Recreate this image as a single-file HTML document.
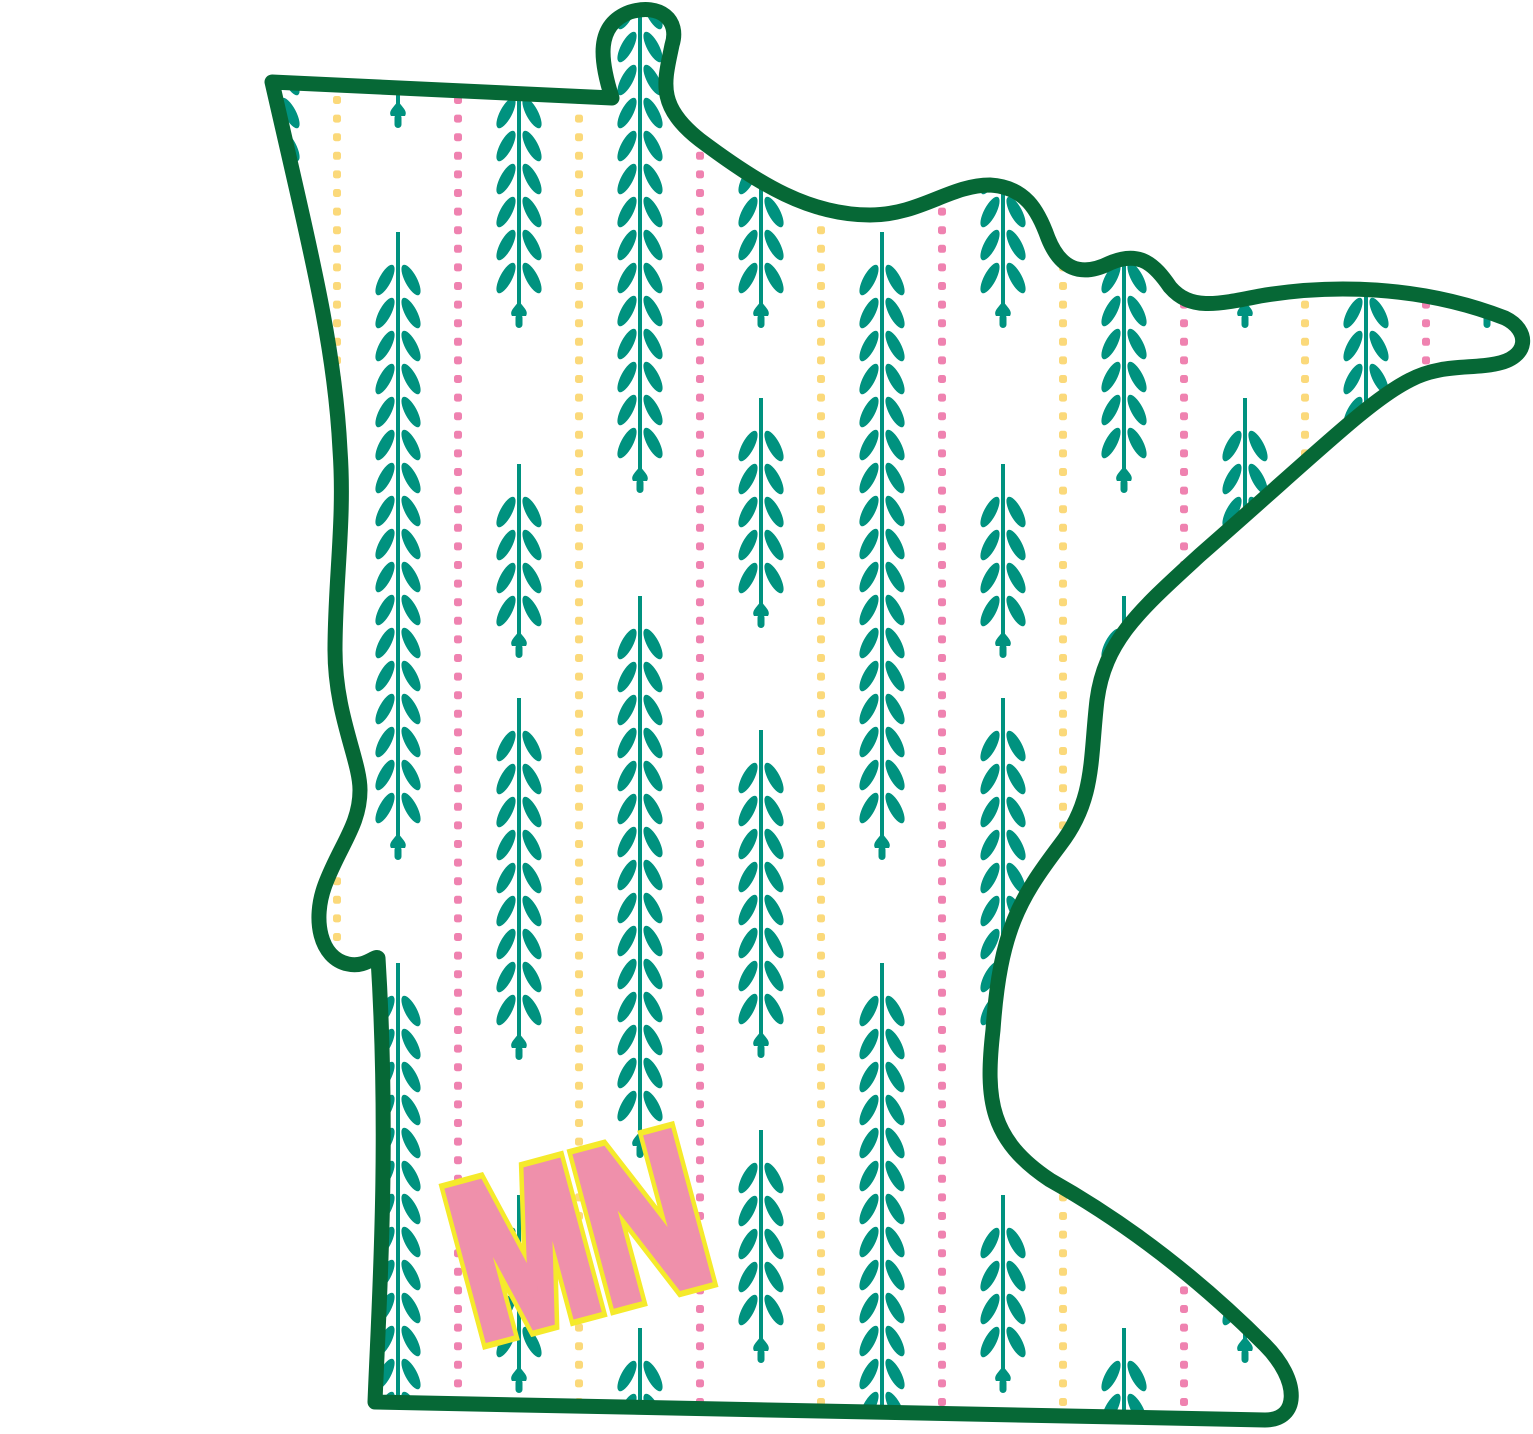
<!DOCTYPE html>
<html><head><meta charset="utf-8"><style>html,body{margin:0;padding:0;background:#fff}svg{display:block}</style></head>
<body>
<svg id="s" width="1533" height="1434" viewBox="0 0 1533 1434" xmlns="http://www.w3.org/2000/svg">
<defs>
<clipPath id="mn"><path id="op" d="M272,82 L612,98 C600,60 595,25 630,12 C660,3 680,20 672,45 C665,80 655,105 700,140 C760,185 810,215 870,215 C920,215 950,185 990,185 C1025,187 1038,210 1048,238 C1060,268 1080,278 1110,263 C1140,250 1155,265 1170,287 C1190,310 1215,305 1260,296 C1330,284 1420,285 1505,318 C1530,330 1530,358 1495,364 C1470,369 1440,364 1410,380 C1370,400 1320,450 1200,555 C1140,610 1105,640 1097,700 C1090,760 1095,800 1060,845 C1020,898 1000,930 993,1030 C985,1100 990,1140 1050,1180 C1130,1225 1200,1280 1265,1345 C1300,1380 1300,1420 1265,1420 L375,1402 C378,1320 390,1150 378,958 C375,955 365,968 348,964 C320,958 312,920 325,885 C340,845 360,825 360,790 C360,760 335,715 335,650 C335,580 345,520 340,450 C335,350 315,270 272,82 Z"/></clipPath>
</defs>
<g id="pat" clip-path="url(#mn)"></g>
<use href="#op" fill="none" stroke="#066836" stroke-width="15" stroke-linejoin="round"/>
<g transform="translate(583,1252) rotate(-15) scale(0.74,1)" font-family="Liberation Sans, sans-serif" font-weight="bold" font-size="215" text-anchor="middle" dominant-baseline="middle">
<text x="0" y="0" fill="#f5ea2b" stroke="#f5ea2b" stroke-width="24" stroke-linejoin="miter">MN</text>
<text x="0" y="0" fill="#ef90ab" stroke="#ef90ab" stroke-width="12" stroke-linejoin="miter">MN</text>
</g>
</svg>
<script>
var g=document.getElementById("pat"),h="";
var T="#00927f";
function dots(x,c){for(var y=100;y<1420;y+=18.6)h+='<rect x="'+(x-4)+'" y="'+(y-4)+'" width="8" height="8" rx="2.5" fill="'+c+'"/>';}
function br(x,t,b){
 h+='<rect x="'+(x-2)+'" y="'+t+'" width="4" height="'+(b-t-8)+'" fill="'+T+'"/>';
 for(var y=t+48;y<=b-42;y+=33){
  h+='<ellipse cx="'+(x-13)+'" cy="'+y+'" rx="6" ry="17" transform="rotate(28 '+(x-13)+' '+y+')" fill="'+T+'"/>';
  h+='<ellipse cx="'+(x+13)+'" cy="'+y+'" rx="6" ry="17" transform="rotate(-28 '+(x+13)+' '+y+')" fill="'+T+'"/>';
 }
 var by=b-18;
 h+='<path d="M'+x+','+(by-11)+' C'+(x+4)+','+(by-5)+' '+(x+10)+','+(by-1)+' '+(x+7)+','+(by+4)+' L'+(x-7)+','+(by+4)+' C'+(x-10)+','+(by-1)+' '+(x-4)+','+(by-5)+' '+x+','+(by-11)+'Z" fill="'+T+'"/>';
 h+='<rect x="'+(x-3.5)+'" y="'+(by+2)+'" width="7" height="14" rx="3.5" fill="'+T+'"/>';
}
var Y="#fbd97a",P="#ef82b0";
[337,579,821,1063,1305].forEach(function(x){dots(x,Y)});
[458,700,942,1184,1426].forEach(function(x){dots(x,P)});
var sets={A:[[-300,130],[232,862],[963,1460]],B:[[-100,330],[464,660],[698,1062],[1195,1395]],C:[[-100,495],[596,1160],[1328,1460]],D:[[-100,330],[398,630],[730,1060],[1130,1365]]};
var cols=[[277,"D"],[398,"A"],[519,"B"],[640,"C"],[761,"D"],[882,"A"],[1003,"B"],[1124,"C"],[1245,"D"],[1366,"A"],[1487,"B"]];
cols.forEach(function(c){sets[c[1]].forEach(function(s){br(c[0],s[0],s[1])})});
g.innerHTML=h;
</script>
</body></html>
